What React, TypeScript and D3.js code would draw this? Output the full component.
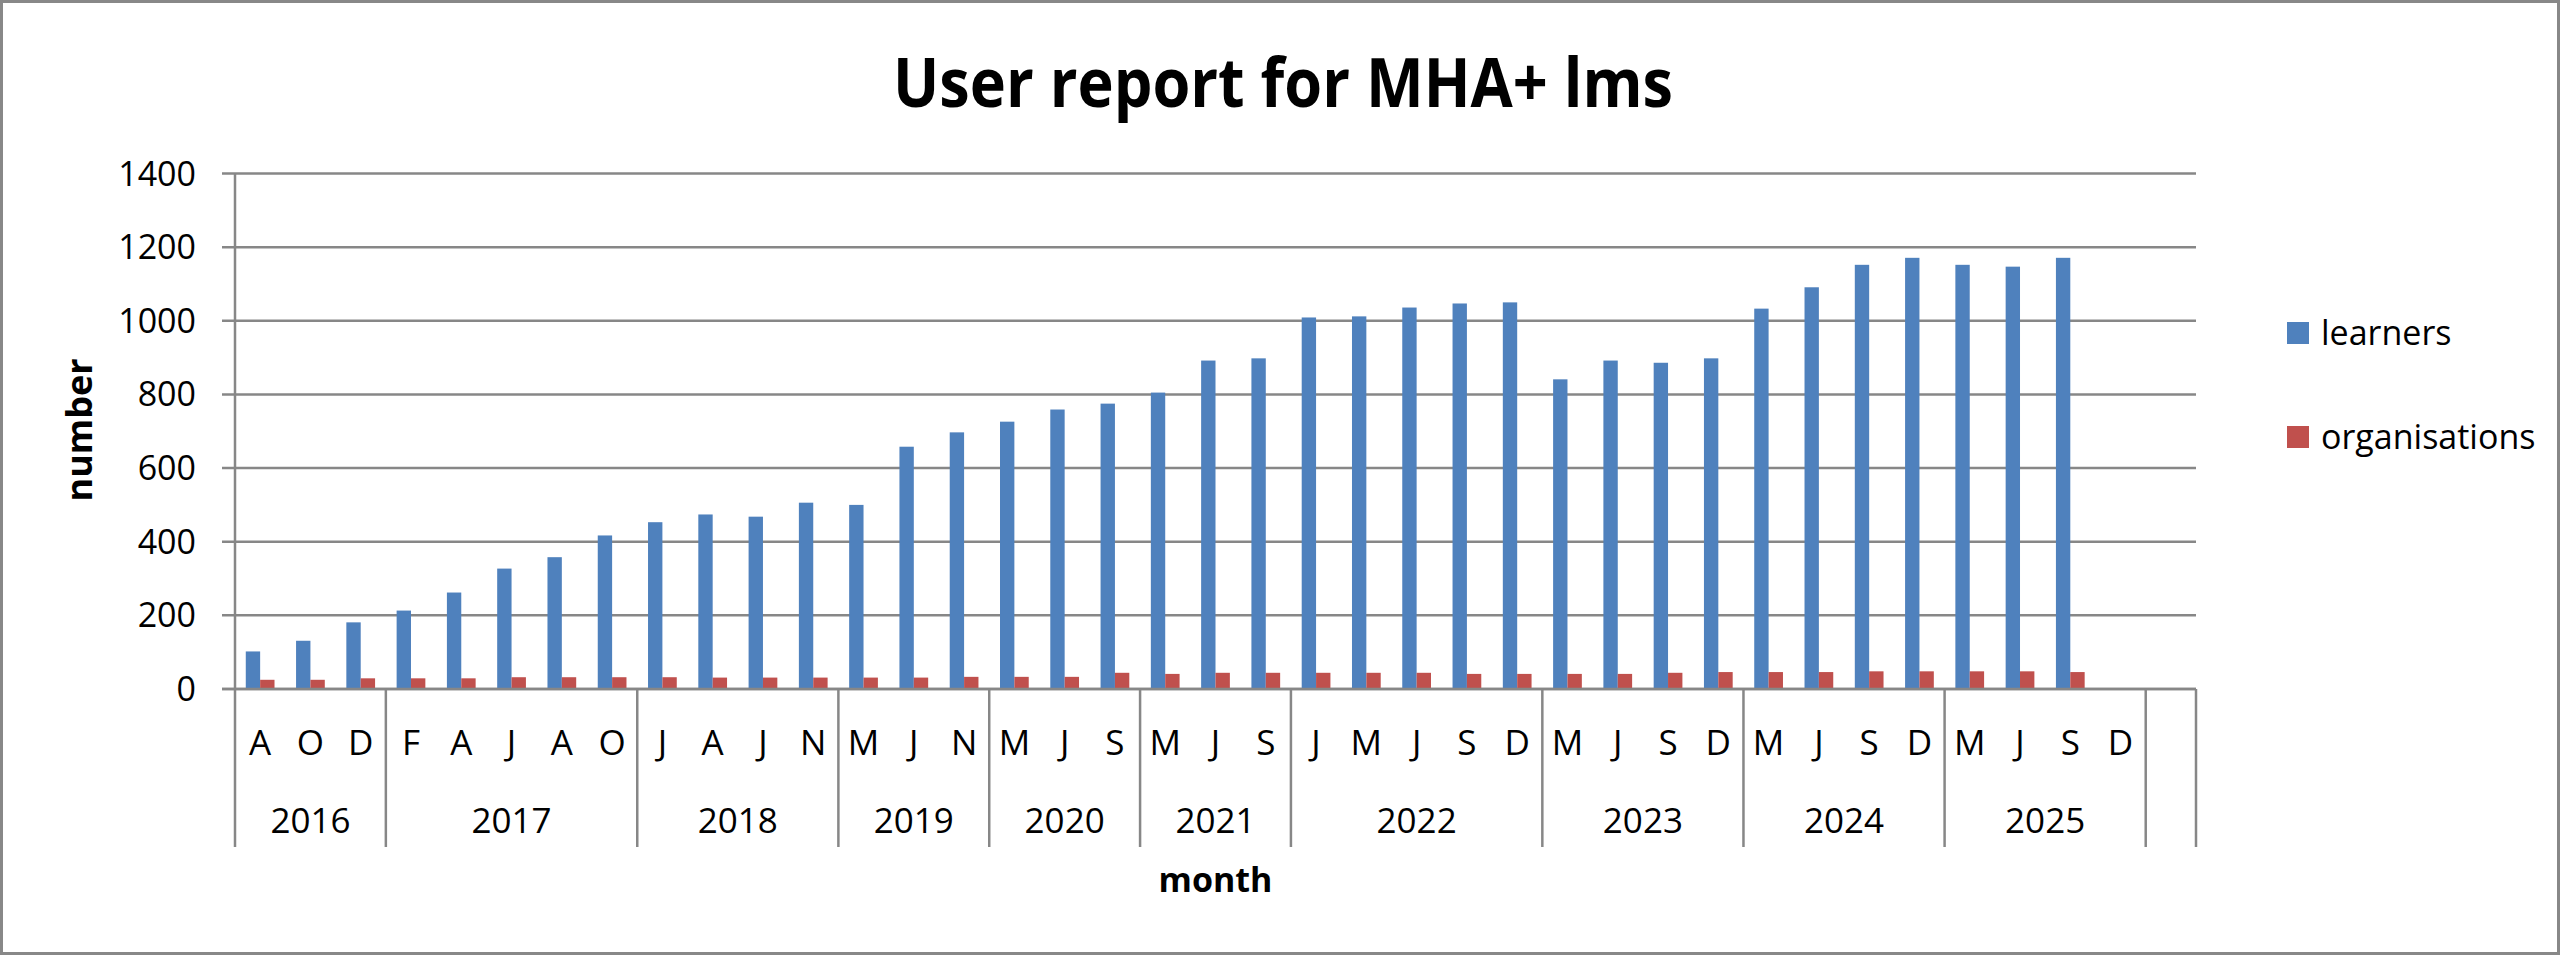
import React from 'react';
import * as d3 from 'd3';

// month initials in chart order, the last slot is the empty category Excel left at the end
const monthLabels = [
  'A', 'O', 'D',
  'F', 'A', 'J', 'A', 'O',
  'J', 'A', 'J', 'N',
  'M', 'J', 'N',
  'M', 'J', 'S',
  'M', 'J', 'S',
  'J', 'M', 'J', 'S', 'D',
  'M', 'J', 'S', 'D',
  'M', 'J', 'S', 'D',
  'M', 'J', 'S', 'D',
  '',
];

const yearLabels = ['2016', '2017', '2018', '2019', '2020', '2021', '2022', '2023', '2024', '2025', ''];
const monthsPerYear = [3, 5, 4, 3, 3, 3, 5, 4, 4, 4, 1];

const learners = [
  102, 131, 181,
  213, 262, 327, 358, 417,
  453, 474, 468, 506,
  500, 658, 697,
  726, 759, 775,
  805, 892, 898,
  1009, 1012, 1036, 1047, 1050,
  841, 892, 886, 898,
  1033, 1091, 1152, 1171,
  1152, 1147, 1171, null,
  null,
];

const organisations = [
  25, 25, 29,
  29, 29, 32, 32, 32,
  32, 31, 31, 31,
  31, 31, 33,
  33, 33, 44,
  41, 44, 44,
  44, 44, 44, 41, 41,
  41, 41, 44, 46,
  46, 46, 48, 48,
  48, 48, 46, null,
  null,
];

const seriesNames = ['learners', 'organisations'];
const seriesColors = ['#4F81BD', '#C0504D'];
const yTicks = [0, 200, 400, 600, 800, 1000, 1200, 1400];

const W = 2560;
const H = 955;
const font = '"Open Sans", "DejaVu Sans", sans-serif';
const gridColor = '#878787';

const App: React.FC = () => {
  const left = 235;
  const right = 2196;
  const top = 173.5;
  const bottom = 689;
  const tickBottom = 847;

  const y = d3.scaleLinear().domain([0, 1400]).range([bottom, top]);
  const x = d3.scaleBand<number>()
    .domain(d3.range(monthLabels.length))
    .range([left, right])
    .padding(0);
  // gap width 150%: two bars plus 1.5 bar widths of space
  const inner = d3.scaleBand<string>()
    .domain(seriesNames)
    .range([0, x.bandwidth()])
    .paddingInner(0)
    .paddingOuter(0.75);

  const seriesData = [learners, organisations];

  // start index of each year group
  const starts = monthsPerYear.map((_, i) => d3.sum(monthsPerYear.slice(0, i)));

  return (
    <svg width={W} height={H} style={{ position: 'absolute', left: 0, top: 0, background: '#fff' }}>
      <rect x={1.5} y={1.5} width={W - 3} height={H - 3} fill="#fff" stroke="#888" strokeWidth={3} />

      <text x={1283} y={107} textAnchor="middle" fontFamily={font} fontWeight="bold" fontSize={68}
        textLength={780} lengthAdjust="spacingAndGlyphs">
        User report for MHA+ lms
      </text>

      {/* gridlines and y ticks */}
      {yTicks.map(t => (
        <g key={t}>
          <line x1={left - 13} x2={right} y1={y(t)} y2={y(t)} stroke={gridColor} strokeWidth={2.5} />
          <text x={196} y={y(t) + 12} textAnchor="end" fontFamily={font} fontSize={34}>{t}</text>
        </g>
      ))}

      {/* y axis line */}
      <line x1={left} x2={left} y1={top} y2={tickBottom} stroke={gridColor} strokeWidth={2.5} />

      {/* bars */}
      {seriesData.map((vals, s) => (
        <g key={seriesNames[s]} fill={seriesColors[s]}>
          {vals.map((v, i) => v == null ? null : (
            <rect key={i}
              x={(x(i) as number) + (inner(seriesNames[s]) as number)}
              y={y(v)}
              width={inner.bandwidth()}
              height={bottom - y(v)} />
          ))}
        </g>
      ))}

      {/* x axis line drawn over the bars' bottoms */}
      <line x1={left - 13} x2={right} y1={bottom} y2={bottom} stroke={gridColor} strokeWidth={2.5} />

      {/* year group separators */}
      {starts.map((st, i) => {
        const xe = (x(st) as number) + x.bandwidth() * monthsPerYear[i];
        return <line key={i} x1={xe} x2={xe} y1={bottom} y2={tickBottom} stroke={gridColor} strokeWidth={2.5} />;
      })}

      {/* month labels */}
      {monthLabels.map((m, i) => (
        <text key={i} x={(x(i) as number) + x.bandwidth() / 2} y={755} textAnchor="middle"
          fontFamily={font} fontSize={35}>{m}</text>
      ))}

      {/* year labels */}
      {yearLabels.map((yl, i) => (
        <text key={i} x={(x(starts[i]) as number) + x.bandwidth() * monthsPerYear[i] / 2} y={833}
          textAnchor="middle" fontFamily={font} fontSize={35}>{yl}</text>
      ))}

      <text x={(left + right) / 2} y={892} textAnchor="middle" fontFamily={font} fontWeight="bold" fontSize={34}>month</text>
      <text transform="translate(92,430) rotate(-90)" textAnchor="middle" fontFamily={font} fontWeight="bold" fontSize={36}>number</text>

      {/* legend */}
      {seriesNames.map((n, i) => (
        <g key={n} transform={`translate(2287,${322 + i * 104})`}>
          <rect width={22} height={22} fill={seriesColors[i]} />
          <text x={34} y={23} fontFamily={font} fontSize={34}>{n}</text>
        </g>
      ))}
    </svg>
  );
};

export default App;
